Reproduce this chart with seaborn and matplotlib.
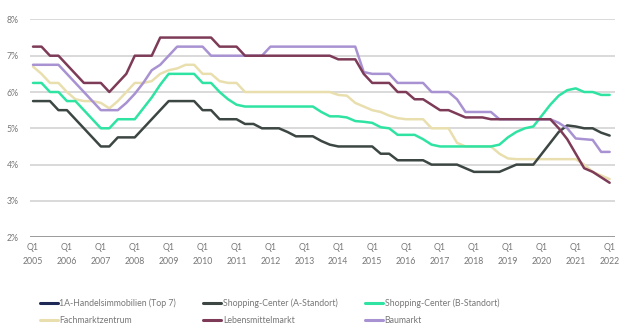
import numpy as np
import pandas as pd
import matplotlib
matplotlib.use("Agg")
import matplotlib.pyplot as plt
from matplotlib.lines import Line2D
import seaborn as sns

# Quarterly timeline Q1 2005 .. Q1 2022
years = list(range(2005, 2023))
quarters = [f"{y} Q{q}" for y in range(2005, 2022) for q in range(1, 5)] + ["2022 Q1"]

series_names = [
    "1A-Handelsimmobilien (Top 7)",
    "Shopping-Center (A-Standort)",
    "Shopping-Center (B-Standort)",
    "Fachmarktzentrum",
    "Lebensmittelmarkt",
    "Baumarkt",
]

sc_a = [5.75, 5.75, 5.75, 5.5, 5.5, 5.25, 5.0, 4.75, 4.5, 4.5,
        4.75, 4.75, 4.75, 5.0, 5.25, 5.5, 5.75, 5.75, 5.75, 5.75,
        5.5, 5.5, 5.25, 5.25, 5.25, 5.12, 5.12, 5.0, 5.0, 5.0,
        4.9, 4.78, 4.78, 4.78, 4.65, 4.55, 4.5, 4.5, 4.5, 4.5,
        4.5, 4.3, 4.3, 4.12, 4.12, 4.12, 4.12, 4.0, 4.0, 4.0,
        4.0, 3.9, 3.8, 3.8, 3.8, 3.8, 3.9, 4.0, 4.0, 4.0,
        4.3, 4.6, 4.9, 5.08, 5.05, 5.0, 5.0, 4.88, 4.8]

sc_b = [6.25, 6.25, 6.0, 6.0, 5.75, 5.75, 5.5, 5.25, 5.0, 5.0,
        5.25, 5.25, 5.25, 5.55, 5.85, 6.2, 6.5, 6.5, 6.5, 6.5,
        6.25, 6.25, 6.0, 5.8, 5.65, 5.6, 5.6, 5.6, 5.6, 5.6,
        5.6, 5.6, 5.6, 5.6, 5.45, 5.33, 5.33, 5.3, 5.2, 5.18,
        5.15, 5.03, 5.0, 4.82, 4.82, 4.82, 4.7, 4.55, 4.5, 4.5,
        4.5, 4.5, 4.5, 4.5, 4.5, 4.55, 4.75, 4.9, 5.0, 5.05,
        5.35, 5.65, 5.9, 6.05, 6.1, 6.0, 6.0, 5.92, 5.92]

fmz = [6.7, 6.5, 6.25, 6.25, 6.0, 5.8, 5.75, 5.75, 5.7, 5.55,
       5.75, 6.0, 6.25, 6.25, 6.3, 6.5, 6.6, 6.65, 6.75, 6.75,
       6.5, 6.5, 6.3, 6.25, 6.25, 6.0, 6.0, 6.0, 6.0, 6.0,
       6.0, 6.0, 6.0, 6.0, 6.0, 6.0, 5.92, 5.9, 5.7, 5.6,
       5.5, 5.45, 5.35, 5.28, 5.25, 5.25, 5.25, 5.0, 5.0, 5.0,
       4.6, 4.5, 4.5, 4.5, 4.5, 4.3, 4.17, 4.15, 4.15, 4.15,
       4.15, 4.15, 4.15, 4.15, 4.15, 4.0, 3.8, 3.7, 3.6]

lebensmittel = [7.25, 7.25, 7.0, 7.0, 6.75, 6.5, 6.25, 6.25, 6.25, 6.0,
                6.25, 6.5, 7.0, 7.0, 7.0, 7.5, 7.5, 7.5, 7.5, 7.5,
                7.5, 7.5, 7.25, 7.25, 7.25, 7.0, 7.0, 7.0, 7.0, 7.0,
                7.0, 7.0, 7.0, 7.0, 7.0, 7.0, 6.9, 6.9, 6.9, 6.5,
                6.25, 6.25, 6.25, 6.0, 6.0, 5.8, 5.8, 5.65, 5.5, 5.5,
                5.4, 5.3, 5.3, 5.3, 5.25, 5.25, 5.25, 5.25, 5.25, 5.25,
                5.25, 5.25, 5.0, 4.7, 4.3, 3.9, 3.8, 3.65, 3.5]

baumarkt = [6.75, 6.75, 6.75, 6.75, 6.5, 6.25, 6.0, 5.75, 5.5, 5.5,
            5.5, 5.7, 5.95, 6.25, 6.6, 6.75, 7.0, 7.25, 7.25, 7.25,
            7.25, 7.0, 7.0, 7.0, 7.0, 7.0, 7.0, 7.0, 7.25, 7.25,
            7.25, 7.25, 7.25, 7.25, 7.25, 7.25, 7.25, 7.25, 7.25, 6.55,
            6.5, 6.5, 6.5, 6.25, 6.25, 6.25, 6.25, 6.0, 6.0, 6.0,
            5.8, 5.45, 5.45, 5.45, 5.45, 5.25, 5.25, 5.25, 5.25, 5.25,
            5.25, 5.25, 5.15, 5.0, 4.72, 4.7, 4.68, 4.35, 4.35]

colors = {
    "1A-Handelsimmobilien (Top 7)": "#1e2a55",
    "Shopping-Center (A-Standort)": "#3c4643",
    "Shopping-Center (B-Standort)": "#2fe3a2",
    "Fachmarktzentrum": "#e9dfae",
    "Lebensmittelmarkt": "#7d3b57",
    "Baumarkt": "#a892d2",
}

plotted = {
    "Fachmarktzentrum": fmz,
    "Shopping-Center (B-Standort)": sc_b,
    "Shopping-Center (A-Standort)": sc_a,
    "Baumarkt": baumarkt,
    "Lebensmittelmarkt": lebensmittel,
}

frames = []
for name, vals in plotted.items():
    frames.append(pd.DataFrame({"t": np.arange(len(vals)), "rendite": vals, "segment": name}))
df = pd.concat(frames, ignore_index=True)

sns.set_theme(style="white")
plt.rcParams["font.family"] = ["Lato", "DejaVu Sans"]

fig = plt.figure(figsize=(6.26, 3.29), dpi=100)
ax = fig.add_axes([0.048, 0.279, 0.934, 0.662])

for y in range(3, 9):
    ax.axhline(y, color="#d9d9d9", lw=1.4, zorder=0)
ax.axhline(2, color="#8a8a8a", lw=1.2, zorder=0)

sns.lineplot(data=df, x="t", y="rendite", hue="segment", palette=colors,
             hue_order=list(plotted.keys()), linewidth=1.8, legend=False, ax=ax)

ax.set_xlim(-0.35, 68.6)
ax.set_ylim(2, 8)
ax.set_yticks(range(2, 9))
ax.set_yticklabels([f"{v}%" for v in range(2, 9)])
ax.set_xticks([4 * i for i in range(len(years))])
ax.set_xticklabels([f"Q1\n{y}" for y in years], linespacing=1.75)
ax.tick_params(axis="both", length=0, labelsize=6.3, labelcolor="#777777", pad=4)
ax.tick_params(axis="y", pad=8)
ax.set_xlabel("")
ax.set_ylabel("")
for s in ax.spines.values():
    s.set_visible(False)

# legend filled column by column: row 1 = first three names, row 2 = last three
order = [0, 3, 1, 4, 2, 5]
handles = [Line2D([0], [0], color=colors[series_names[i]], lw=2.2) for i in order]
labels = [series_names[i] for i in order]
fig.legend(handles, labels, loc="upper left", bbox_to_anchor=(0.058, 0.103),
           ncol=3, frameon=False, fontsize=6.3, labelcolor="#777777",
           handlelength=2.05, handletextpad=0.2, columnspacing=3.1,
           labelspacing=0.9, borderaxespad=0)

fig.savefig("out.png", dpi=100)
